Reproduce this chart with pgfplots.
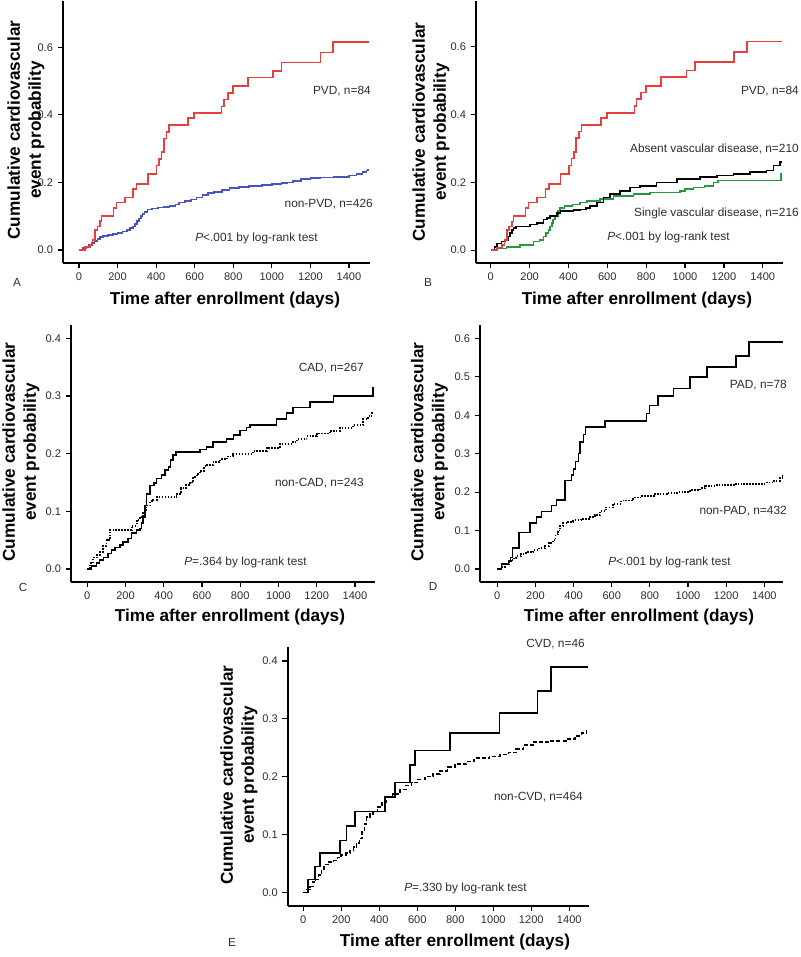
\documentclass[border=0pt]{standalone}
\usepackage{pgfplots}
\pgfplotsset{compat=1.18}
\usepackage{fontspec}
\setmainfont{Liberation Sans}
\definecolor{kmred}{RGB}{232,62,62}
\definecolor{kmblue}{RGB}{72,82,192}
\definecolor{kmgreen}{RGB}{40,150,60}
\definecolor{txtgray}{RGB}{45,45,45}
\newcommand\annot{\fontsize{8.9}{10}\selectfont}
\newcommand\tickf{\fontsize{8.3}{10}\selectfont}
\newcommand\labf{\fontsize{12.9}{15.8}\selectfont\bfseries}
\newcommand\letf{\fontsize{8.8}{10}\selectfont}
\pgfplotsset{
  km/.style={
    scale only axis, axis lines=left,
    axis line style={-, line width=1.4pt, black},
    tick align=outside, major tick length=4pt,
    tick style={line width=0.9pt, black},
    tick label style={font=\tickf, text=txtgray},
    /pgf/number format/assume math mode=true,
    xtick={0,200,...,1400},
    xticklabel style={/pgf/number format/1000 sep={}},
    yticklabel style={/pgf/number format/.cd, fixed, fixed zerofill, precision=1},
    minor tick num=0,
  },
  kml/.style={const plot, no marks, line width=1.2pt},
  kmdot/.style={const plot, no marks, line width=1.4pt, dash pattern=on 1.1pt off 1.1pt},
}
\begin{document}
\begin{tikzpicture}[x=0.75pt,y=0.75pt]
\useasboundingbox (0,0) rectangle (800,957);
% ---------------- Panel A ----------------
\begin{axis}[km, at={(47.25pt,520.5pt)}, anchor=south west, width=230.25pt, height=196.5pt,
  xmin=-83, xmax=1509, ymin=-0.0385, ymax=0.737, ytick={0,0.2,0.4,0.6}]
\addplot[kml, kmblue] coordinates {(0,0) (20,0.005) (35,0.01) (50,0.015) (65,0.02) (80,0.027) (95,0.033) (110,0.038) (125,0.042) (150,0.045) (175,0.048) (200,0.05) (225,0.055) (250,0.06) (265,0.065) (280,0.07) (290,0.077) (300,0.085) (310,0.093) (320,0.1) (330,0.107) (340,0.113) (355,0.12) (380,0.123) (410,0.126) (440,0.128) (470,0.131) (500,0.135) (520,0.14) (550,0.145) (580,0.15) (610,0.155) (640,0.163) (670,0.168) (700,0.172) (740,0.178) (780,0.183) (830,0.187) (880,0.19) (950,0.192) (1000,0.195) (1050,0.198) (1080,0.2) (1110,0.205) (1150,0.21) (1200,0.213) (1250,0.215) (1320,0.216) (1400,0.22) (1440,0.225) (1470,0.23) (1490,0.235) (1500,0.24)};
\addplot[kml, kmred] coordinates {(0,0) (31,0.008) (57,0.015) (70,0.03) (83,0.06) (95,0.07) (109,0.085) (117,0.1) (178,0.125) (195,0.14) (238,0.155) (281,0.18) (299,0.195) (359,0.225) (402,0.25) (416,0.27) (428,0.29) (440,0.33) (454,0.35) (468,0.37) (566,0.39) (597,0.405) (739,0.425) (751,0.445) (773,0.465) (799,0.485) (877,0.51) (1007,0.53) (1050,0.555) (1252,0.585) (1318,0.615) (1504,0.615)};
\end{axis}
\node[anchor=east, inner sep=0, font=\annot, text=txtgray] at (371,866) {PVD, n=84};
\node[anchor=east, inner sep=0, font=\annot, text=txtgray] at (373,753) {non-PVD, n=426};
\node[anchor=west, inner sep=0, font=\annot, text=txtgray] at (195,719) {\textit{P}<.001 by log-rank test};
\node[inner sep=0, font=\letf, text=txtgray] at (17,675) {A};
\node[inner sep=0, font=\labf] at (225,657) {Time after enrollment (days)};
\node[inner sep=0, font=\labf, rotate=90, align=center] at (26,827) {Cumulative cardiovascular\\event probability};
% ---------------- Panel B ----------------
\begin{axis}[km, at={(357pt,520.5pt)}, anchor=south west, width=230.25pt, height=196.5pt,
  xmin=-75.7, xmax=1504, ymin=-0.038, ymax=0.735, ytick={0,0.2,0.4,0.6}]
\addplot[kml, kmgreen] coordinates {(0,0) (31,0.005) (82,0.01) (150,0.015) (220,0.025) (250,0.03) (271,0.04) (285,0.05) (297,0.06) (305,0.07) (314,0.08) (322,0.09) (331,0.1) (345,0.115) (357,0.125) (380,0.13) (420,0.135) (460,0.14) (494,0.145) (563,0.15) (631,0.16) (734,0.165) (820,0.17) (974,0.175) (1000,0.18) (1043,0.185) (1100,0.19) (1146,0.2) (1170,0.205) (1495,0.225) (1500,0.225)};
\addplot[kml, black] coordinates {(0,0) (20,0.01) (31,0.02) (55,0.025) (75,0.03) (90,0.04) (100,0.05) (110,0.06) (117,0.065) (130,0.07) (202,0.075) (237,0.08) (271,0.09) (290,0.095) (305,0.1) (340,0.11) (360,0.115) (425,0.118) (460,0.12) (490,0.125) (511,0.13) (546,0.14) (580,0.155) (614,0.165) (666,0.175) (717,0.185) (769,0.19) (854,0.2) (957,0.21) (1077,0.215) (1163,0.22) (1249,0.225) (1335,0.23) (1420,0.235) (1455,0.25) (1489,0.26) (1500,0.26)};
\addplot[kml, kmred] coordinates {(0,0) (31,0.008) (57,0.015) (70,0.03) (83,0.06) (95,0.07) (109,0.085) (117,0.1) (178,0.125) (195,0.14) (238,0.155) (281,0.18) (299,0.195) (359,0.225) (402,0.25) (416,0.27) (428,0.29) (440,0.33) (454,0.35) (468,0.37) (566,0.39) (597,0.405) (739,0.425) (751,0.445) (773,0.465) (799,0.485) (877,0.51) (1007,0.53) (1050,0.555) (1252,0.585) (1318,0.615) (1500,0.615)};
\end{axis}
\node[anchor=east, inner sep=0, font=\annot, text=txtgray] at (799,866) {PVD, n=84};
\node[anchor=east, inner sep=0, font=\annot, text=txtgray] at (799,808) {Absent vascular disease, n=210};
\node[anchor=east, inner sep=0, font=\annot, text=txtgray] at (799,744) {Single vascular disease, n=216};
\node[anchor=west, inner sep=0, font=\annot, text=txtgray] at (607,720) {\textit{P}<.001 by log-rank test};
\node[inner sep=0, font=\letf, text=txtgray] at (428,675) {B};
\node[inner sep=0, font=\labf] at (637,657) {Time after enrollment (days)};
\node[inner sep=0, font=\labf, rotate=90, align=center] at (431,825) {Cumulative cardiovascular\\event probability};
% ---------------- Panel C ----------------
\begin{axis}[km, at={(53.25pt,281.475pt)}, anchor=south west, width=228pt, height=192.5pt,
  xmin=-85, xmax=1505, ymin=-0.022, ymax=0.423, ytick={0,0.1,0.2,0.3,0.4}]
\addplot[kmdot, black] coordinates {(0,0) (15,0.01) (31,0.02) (50,0.025) (66,0.03) (84,0.04) (101,0.05) (119,0.068) (232,0.075) (258,0.085) (275,0.09) (293,0.1) (310,0.11) (330,0.118) (345,0.12) (363,0.125) (467,0.13) (490,0.14) (515,0.145) (537,0.15) (555,0.16) (572,0.165) (589,0.17) (610,0.178) (624,0.18) (660,0.185) (694,0.19) (729,0.195) (764,0.2) (868,0.205) (938,0.21) (1008,0.217) (1077,0.22) (1095,0.225) (1147,0.23) (1200,0.235) (1269,0.24) (1321,0.245) (1391,0.25) (1443,0.26) (1470,0.265) (1487,0.27) (1500,0.27)};
\addplot[kml, black] coordinates {(0,0) (23,0.005) (49,0.01) (65,0.016) (84,0.02) (110,0.027) (127,0.033) (145,0.037) (171,0.042) (188,0.047) (214,0.053) (232,0.062) (258,0.068) (275,0.07) (284,0.08) (293,0.09) (301,0.11) (310,0.13) (328,0.145) (349,0.149) (363,0.157) (389,0.163) (406,0.172) (424,0.177) (436,0.189) (450,0.198) (464,0.203) (589,0.207) (624,0.212) (659,0.22) (729,0.225) (764,0.232) (798,0.24) (833,0.245) (851,0.25) (990,0.26) (1043,0.27) (1077,0.28) (1165,0.29) (1287,0.3) (1495,0.315) (1500,0.315)};
\end{axis}
\node[anchor=east, inner sep=0, font=\annot, text=txtgray] at (364,589) {CAD, n=267};
\node[anchor=east, inner sep=0, font=\annot, text=txtgray] at (364,474) {non-CAD, n=243};
\node[anchor=west, inner sep=0, font=\annot, text=txtgray] at (184,395) {\textit{P}=.364 by log-rank test};
\node[inner sep=0, font=\letf, text=txtgray] at (23,370) {C};
\node[inner sep=0, font=\labf] at (230,340) {Time after enrollment (days)};
\node[inner sep=0, font=\labf, rotate=90, align=center] at (21,505) {Cumulative cardiovascular\\event probability};
% ---------------- Panel D ----------------
\begin{axis}[km, at={(360pt,281.25pt)}, anchor=south west, width=227.25pt, height=192.75pt,
  xmin=-90.7, xmax=1498, ymin=-0.034, ymax=0.635, ytick={0,0.1,0.2,0.3,0.4,0.5,0.6}]
\addplot[kmdot, black] coordinates {(0,0) (20,0.005) (40,0.012) (60,0.02) (80,0.027) (100,0.033) (125,0.04) (150,0.044) (189,0.05) (220,0.055) (250,0.06) (270,0.068) (290,0.075) (305,0.09) (318,0.1) (330,0.112) (345,0.12) (370,0.123) (399,0.127) (440,0.13) (480,0.135) (510,0.14) (538,0.15) (570,0.16) (608,0.17) (650,0.178) (713,0.186) (760,0.19) (820,0.195) (888,0.198) (950,0.2) (1010,0.205) (1063,0.21) (1090,0.215) (1150,0.218) (1250,0.222) (1412,0.225) (1450,0.23) (1480,0.237) (1500,0.245)};
\addplot[kml, black] coordinates {(0,0) (23,0.013) (58,0.02) (70,0.03) (80,0.054) (115,0.095) (171,0.12) (206,0.135) (232,0.15) (285,0.165) (311,0.18) (355,0.23) (390,0.245) (399,0.26) (411,0.28) (425,0.3) (435,0.33) (451,0.35) (463,0.37) (565,0.385) (783,0.405) (797,0.425) (844,0.45) (923,0.47) (1010,0.5) (1100,0.525) (1250,0.555) (1320,0.59) (1500,0.59)};
\end{axis}
\node[anchor=east, inner sep=0, font=\annot, text=txtgray] at (787,572) {PAD, n=78};
\node[anchor=east, inner sep=0, font=\annot, text=txtgray] at (787,446) {non-PAD, n=432};
\node[anchor=west, inner sep=0, font=\annot, text=txtgray] at (608,395) {\textit{P}<.001 by log-rank test};
\node[inner sep=0, font=\letf, text=txtgray] at (433,371) {D};
\node[inner sep=0, font=\labf] at (639,340) {Time after enrollment (days)};
\node[inner sep=0, font=\labf, rotate=90, align=center] at (429.5,505) {Cumulative cardiovascular\\event probability};
% ---------------- Panel E ----------------
\begin{axis}[km, at={(215.775pt,38.475pt)}, anchor=south west, width=226pt, height=194pt,
  xmin=-82, xmax=1504, ymin=-0.023, ymax=0.424, ytick={0,0.1,0.2,0.3,0.4}]
\addplot[kml, black, dash pattern=on 3pt off 1.6pt] coordinates {(0,0) (20,0.005) (35,0.01) (50,0.018) (65,0.022) (80,0.03) (95,0.04) (110,0.048) (130,0.052) (158,0.055) (180,0.06) (200,0.065) (225,0.068) (246,0.072) (265,0.078) (280,0.085) (295,0.093) (310,0.105) (322,0.118) (333,0.13) (350,0.135) (368,0.14) (390,0.148) (415,0.155) (439,0.165) (470,0.17) (509,0.178) (540,0.185) (570,0.19) (600,0.195) (640,0.2) (684,0.205) (720,0.21) (760,0.217) (800,0.222) (860,0.226) (900,0.232) (980,0.235) (1035,0.238) (1080,0.242) (1120,0.248) (1160,0.255) (1211,0.26) (1300,0.262) (1386,0.265) (1430,0.27) (1465,0.275) (1490,0.28) (1500,0.28)};
\addplot[kml, black] coordinates {(0,0) (26,0.022) (61,0.045) (88,0.068) (193,0.09) (228,0.115) (272,0.14) (430,0.165) (482,0.19) (561,0.22) (588,0.245) (772,0.275) (1032,0.31) (1233,0.348) (1304,0.39) (1500,0.39)};
\end{axis}
\node[anchor=east, inner sep=0, font=\annot, text=txtgray] at (585,313) {CVD, n=46};
\node[anchor=east, inner sep=0, font=\annot, text=txtgray] at (583,160) {non-CVD, n=464};
\node[anchor=west, inner sep=0, font=\annot, text=txtgray] at (404,69) {\textit{P}=.330 by log-rank test};
\node[inner sep=0, font=\letf, text=txtgray] at (232,15) {E};
\node[inner sep=0, font=\labf] at (455,15) {Time after enrollment (days)};
\node[inner sep=0, font=\labf, rotate=90, align=center] at (239,182) {Cumulative cardiovascular\\event probability};
\end{tikzpicture}
\end{document}
